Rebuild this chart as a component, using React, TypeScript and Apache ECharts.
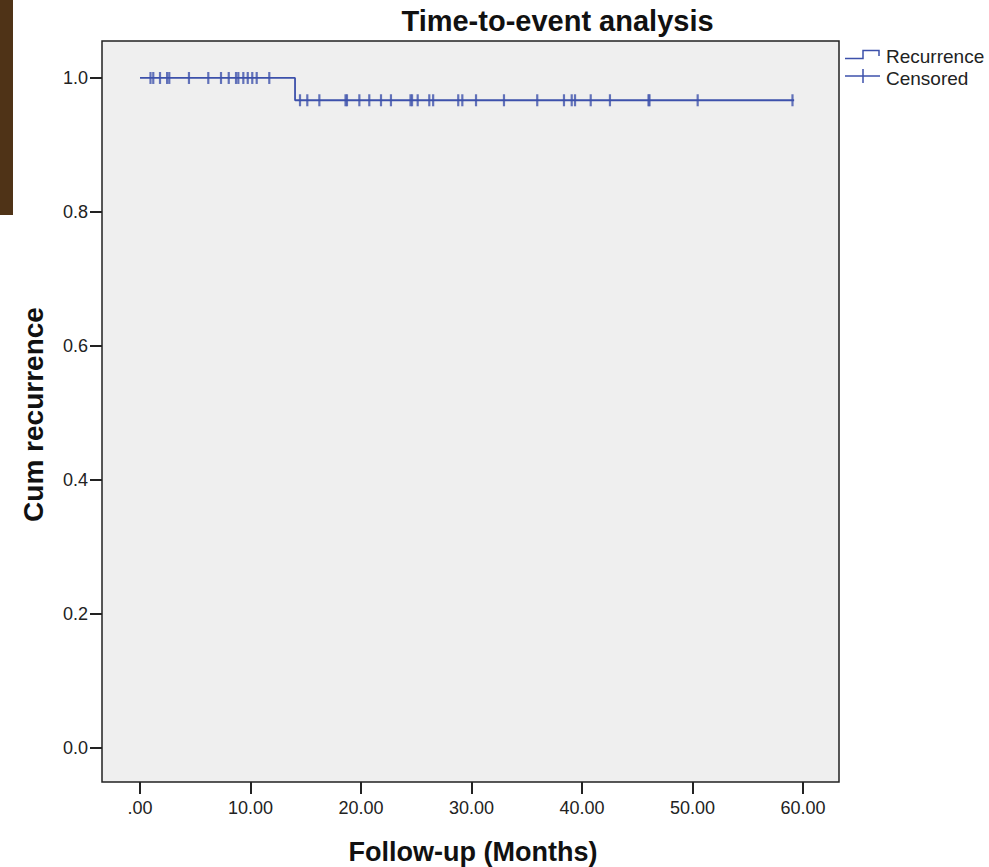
import React, { useEffect, useRef } from "react";
import * as echarts from "echarts";

// ---- data ----
const xTickValues = [0, 10, 20, 30, 40, 50, 60];
const yTickValues = [0, 0.2, 0.4, 0.6, 0.8, 1.0];
const startTime = 0;
const eventTime = 14.03;
const survivalBefore = 1.0;
const survivalAfter = 0.9667;
const endTime = 59.2;
const censoredBefore = [0.95, 1.2, 1.81, 2.45, 2.65, 4.43, 6.18, 7.33, 8.03, 8.69, 8.9, 9.35, 9.75, 10.16, 10.56, 11.7];
const censoredAfter = [14.48, 15.14, 16.23, 18.6, 18.73, 19.85, 20.75, 21.81, 22.71, 24.48, 24.62, 25.13, 26.18, 26.53, 28.8, 29.17, 30.41, 32.94, 35.95, 38.37, 39.07, 39.37, 40.79, 42.53, 46.02, 46.11, 50.47, 59.05];
const legendLabels = ["Recurrence", "Censored"];
const titleText = "Time-to-event analysis";
const xName = "Follow-up (Months)";
const yName = "Cum recurrence";

const FONT = "'Liberation Sans', Arial, Helvetica, sans-serif";
const LINE_COLOR = "#3d51ab";

export default function App() {
  const ref = useRef<HTMLDivElement>(null);
  useEffect(() => {
    if (!ref.current) return;
    const chart = echarts.init(ref.current, null, { renderer: "svg" });
    const stepData = [
      [startTime, survivalBefore],
      [eventTime, survivalBefore],
      [eventTime, survivalAfter],
      [endTime, survivalAfter],
    ];
    const censData = [
      ...censoredBefore.map((t) => [t, survivalBefore]),
      ...censoredAfter.map((t) => [t, survivalAfter]),
    ];
    chart.setOption({
      animation: false,
      backgroundColor: "#ffffff",
      textStyle: { fontFamily: FONT },
      grid: {
        left: 102,
        top: 41,
        width: 737,
        height: 741,
        show: true,
        backgroundColor: "#efefef",
        borderColor: "#222",
        borderWidth: 1.5,
      },
      xAxis: {
        type: "value",
        position: "bottom",
        min: -3.44,
        max: 63.26,
        axisLine: { show: false, onZero: false },
        splitLine: { show: false },
        axisTick: {
          show: true,
          inside: false,
          length: 12,
          lineStyle: { color: "#222", width: 2 },
          customValues: xTickValues,
        },
        axisLabel: {
          customValues: xTickValues,
          margin: 17,
          fontSize: 18,
          color: "#222",
          fontFamily: FONT,
          formatter: (v: number) => (v === 0 ? ".00" : v.toFixed(2)),
        },
      },
      yAxis: {
        type: "value",
        position: "left",
        min: -0.0512,
        max: 1.0552,
        axisLine: { show: false, onZero: false },
        splitLine: { show: false },
        axisTick: {
          show: true,
          inside: false,
          length: 12,
          lineStyle: { color: "#222", width: 2 },
          customValues: yTickValues,
        },
        axisLabel: {
          customValues: yTickValues,
          margin: 14,
          fontSize: 18,
          color: "#222",
          fontFamily: FONT,
          formatter: (v: number) => v.toFixed(1),
        },
      },
      series: [
        {
          name: legendLabels[0],
          type: "line",
          data: stepData,
          showSymbol: false,
          symbol: "none",
          lineStyle: { color: LINE_COLOR, width: 1.8 },
          z: 3,
        },
        {
          name: legendLabels[1],
          type: "scatter",
          data: censData,
          symbol: "rect",
          symbolSize: [2.2, 12],
          itemStyle: { color: LINE_COLOR },
          z: 4,
        },
      ],
      graphic: [
        {
          type: "rect",
          shape: { x: 0, y: 0, width: 13, height: 215 },
          style: { fill: "#4f3317" },
        },
        {
          type: "text",
          x: 557.5,
          y: 21,
          style: {
            text: titleText,
            font: `bold 29px ${FONT}`,
            fill: "#111",
            align: "center",
            verticalAlign: "middle",
          },
        },
        {
          type: "text",
          x: 473,
          y: 852,
          style: {
            text: xName,
            font: `bold 27px ${FONT}`,
            fill: "#111",
            align: "center",
            verticalAlign: "middle",
          },
        },
        {
          type: "text",
          x: 33,
          y: 414.5,
          rotation: Math.PI / 2,
          style: {
            text: yName,
            font: `bold 28px ${FONT}`,
            fill: "#111",
            align: "center",
            verticalAlign: "middle",
          },
        },
        {
          type: "polyline",
          shape: { points: [[845, 58.5], [863, 58.5], [863, 50.5], [879, 50.5], [879, 56]] },
          style: { stroke: LINE_COLOR, lineWidth: 1.5, fill: "none" },
        },
        {
          type: "line",
          shape: { x1: 845, y1: 76, x2: 880, y2: 76 },
          style: { stroke: LINE_COLOR, lineWidth: 1.5 },
        },
        {
          type: "line",
          shape: { x1: 863, y1: 69, x2: 863, y2: 83 },
          style: { stroke: LINE_COLOR, lineWidth: 1.5 },
        },
        {
          type: "text",
          x: 886,
          y: 56,
          style: {
            text: legendLabels[0],
            font: `19px ${FONT}`,
            fill: "#222",
            align: "left",
            verticalAlign: "middle",
          },
        },
        {
          type: "text",
          x: 886,
          y: 78.5,
          style: {
            text: legendLabels[1],
            font: `19px ${FONT}`,
            fill: "#222",
            align: "left",
            verticalAlign: "middle",
          },
        },
      ],
    });
    return () => chart.dispose();
  }, []);
  return <div ref={ref} style={{ width: 989, height: 867, position: "absolute", left: 0, top: 0 }} />;
}
